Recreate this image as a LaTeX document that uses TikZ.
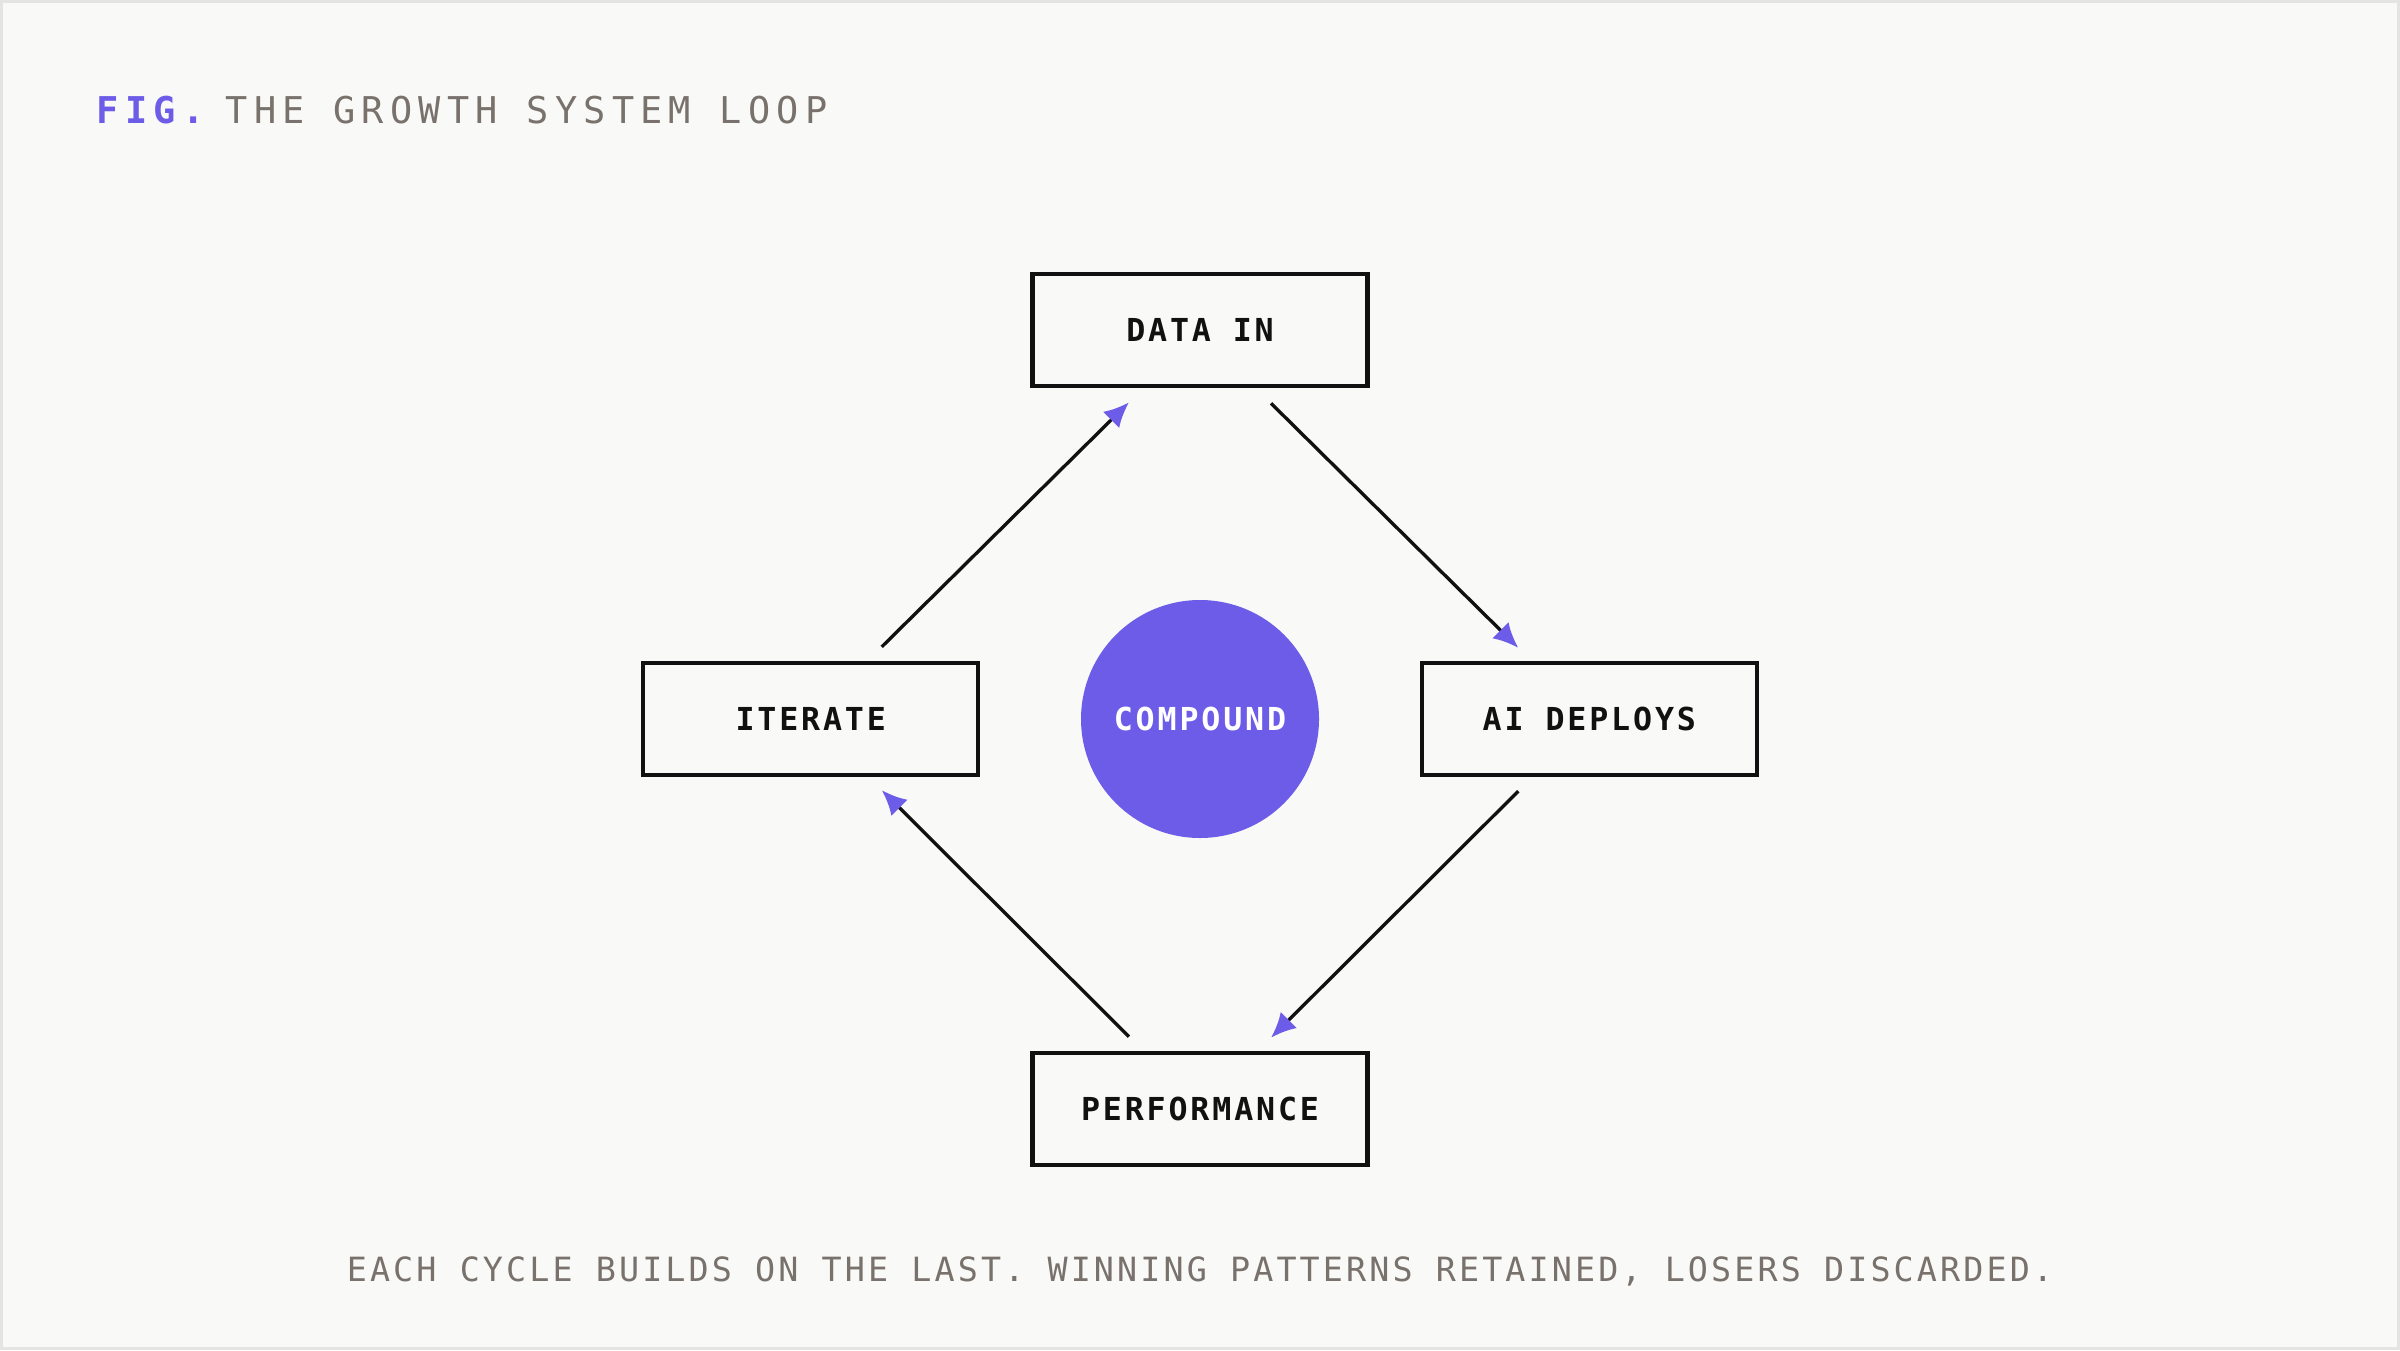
\documentclass[tikz,border=0pt]{standalone}
\usepackage{fontspec}
\usepackage{xcolor}
\usepackage{tikz}
\usetikzlibrary{arrows.meta, positioning, calc}

\setmonofont{DejaVu Sans Mono}
\newfontfamily\boxfont{DejaVu Sans Mono}[LetterSpace=9]
\newfontfamily\headfont{DejaVu Sans Mono}[LetterSpace=17]
\newfontfamily\notefont{DejaVu Sans Mono}[LetterSpace=9.3]

\definecolor{paper}{HTML}{F9F9F7}
\definecolor{framegray}{HTML}{E4E4E2}
\definecolor{accent}{HTML}{6C5CE7}
\definecolor{inkgray}{HTML}{78716C}
\definecolor{ink}{HTML}{111111}

\begin{document}
\begin{tikzpicture}[
        node distance=2.12cm,
        box/.style={rectangle, draw=ink, line width=1.2pt, fill=paper, minimum width=3.35cm, minimum height=1.12cm, align=center, font=\boxfont\bfseries\fontsize{9}{11}\selectfont, text=ink},
        hub/.style={circle, fill=accent, minimum size=2.38cm, inner sep=0pt, text=white, font=\boxfont\bfseries\fontsize{9}{11}\selectfont},
        arrowline/.style={-{Latex[length=2.5mm, width=2.3mm, color=accent]}, line width=0.95pt, draw=ink}
    ]
        \useasboundingbox (0,0) rectangle (24,13.5);
        \fill[framegray] (0,0) rectangle (24,13.5);
        \fill[paper] (0.03,0.03) rectangle (23.97,13.47);

        \node[anchor=base west, inner sep=0pt, text=accent, font=\headfont\bfseries\fontsize{10.5}{12}\selectfont] (figtag) at (0.96,12.26) {FIG.};
        \node[anchor=base west, inner sep=0pt, text=inkgray, font=\headfont\fontsize{10.5}{12}\selectfont] (figtitle) at (2.25,12.26) {THE GROWTH SYSTEM LOOP};

        \node[hub] (compound) at (12,6.31) {COMPOUND};
        \node[box, above=2.11cm of compound] (datain) {DATA IN};
        \node[box, below=of compound] (perf) {PERFORMANCE};
        \node[box, left=1.0cm of compound] (iterate) {ITERATE};
        \node[box, right=1.0cm of compound] (deploys) {AI DEPLOYS};

        \draw[arrowline] ($(datain.south)+(0.71,-0.15)$) -- ($(deploys.north)+(-0.71,0.13)$);
        \draw[arrowline] ($(deploys.south)+(-0.71,-0.14)$) -- ($(perf.north)+(0.71,0.13)$);
        \draw[arrowline] ($(perf.north)+(-0.71,0.14)$) -- ($(iterate.south)+(0.71,-0.13)$);
        \draw[arrowline] ($(iterate.north)+(0.71,0.14)$) -- ($(datain.south)+(-0.71,-0.14)$);

        \node[anchor=base, inner sep=0pt, text=inkgray, font=\notefont\fontsize{9.5}{11}\selectfont] (note) at (12,0.69) {EACH CYCLE BUILDS ON THE LAST. WINNING PATTERNS RETAINED, LOSERS DISCARDED.};
    \end{tikzpicture}
\end{document}
